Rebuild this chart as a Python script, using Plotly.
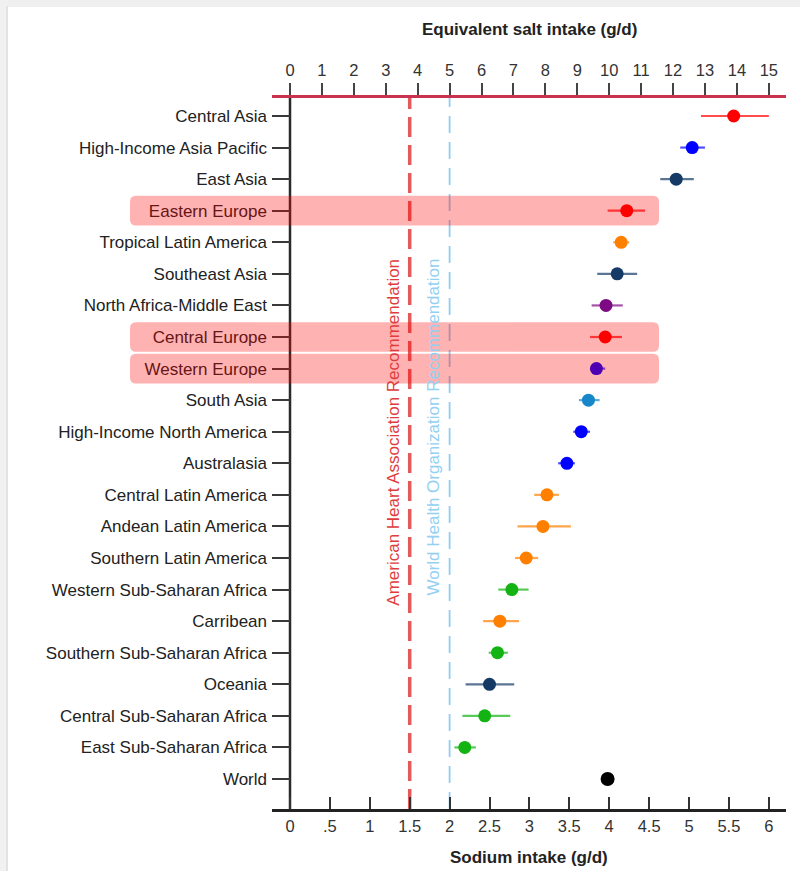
import plotly.graph_objects as go

# ---- data -----------------------------------------------------------------
regions = [
    "Central Asia", "High-Income Asia Pacific", "East Asia", "Eastern Europe",
    "Tropical Latin America", "Southeast Asia", "North Africa-Middle East",
    "Central Europe", "Western Europe", "South Asia", "High-Income North America",
    "Australasia", "Central Latin America", "Andean Latin America",
    "Southern Latin America", "Western Sub-Saharan Africa", "Carribean",
    "Southern Sub-Saharan Africa", "Oceania", "Central Sub-Saharan Africa",
    "East Sub-Saharan Africa", "World",
]
sodium = [5.56, 5.04, 4.84, 4.22, 4.15, 4.10, 3.96, 3.95, 3.84, 3.74, 3.65,
          3.47, 3.22, 3.17, 2.96, 2.78, 2.63, 2.60, 2.50, 2.44, 2.19, 3.98]
ci_low = [5.15, 4.89, 4.64, 3.98, 4.05, 3.85, 3.78, 3.76, 3.76, 3.62, 3.55,
          3.36, 3.06, 2.85, 2.82, 2.61, 2.42, 2.49, 2.20, 2.16, 2.06, 3.98]
ci_high = [6.00, 5.20, 5.06, 4.45, 4.25, 4.35, 4.17, 4.16, 3.95, 3.88, 3.76,
           3.57, 3.37, 3.52, 3.11, 2.99, 2.87, 2.73, 2.81, 2.76, 2.33, 3.98]
super_region = [
    "CEE-CA", "High income", "SE Asia-E Asia-Oceania", "CEE-CA",
    "Latin America-Caribbean", "SE Asia-E Asia-Oceania", "N Africa-Middle East",
    "CEE-CA", "High income", "South Asia", "High income",
    "High income", "Latin America-Caribbean", "Latin America-Caribbean",
    "Latin America-Caribbean", "Sub-Saharan Africa", "Latin America-Caribbean",
    "Sub-Saharan Africa", "SE Asia-E Asia-Oceania", "Sub-Saharan Africa",
    "Sub-Saharan Africa", "World",
]
highlighted = ["Eastern Europe", "Central Europe", "Western Europe"]

sodium_ticks = [0, 0.5, 1, 1.5, 2, 2.5, 3, 3.5, 4, 4.5, 5, 5.5, 6]
sodium_tick_text = ["0", ".5", "1", "1.5", "2", "2.5", "3", "3.5", "4",
                    "4.5", "5", "5.5", "6"]
salt_ticks = list(range(16))
aha_limit = 1.5   # g sodium / day
who_limit = 2.0   # g sodium / day
SALT_PER_SODIUM = 2.5

# ---- styles ---------------------------------------------------------------
region_colors = {
    "CEE-CA": (255, 0, 0),
    "High income": (0, 0, 255),
    "SE Asia-E Asia-Oceania": (22, 58, 102),
    "Latin America-Caribbean": (255, 128, 0),
    "N Africa-Middle East": (125, 10, 130),
    "South Asia": (23, 135, 201),
    "Sub-Saharan Africa": (18, 179, 18),
    "World": (0, 0, 0),
}

def rgba(c, a=1.0):
    return f"rgba({c[0]},{c[1]},{c[2]},{a})"

FONT = "Liberation Sans, Arial, sans-serif"
FS = 17
W, H = 800, 871
L, R, T, B = 272, 786, 98, 809          # plot box in pixels
PX_PER_G = 79.8
x_min = -(290 - L) / PX_PER_G
x_max = x_min + (R - L) / PX_PER_G
y_top = -0.57
y_bottom = len(regions) - 1 + 0.95

def px_x(px):
    return (px - L) / (R - L)

def px_y(py):
    return (B - py) / (B - T)

def cat_y(v):
    return (y_bottom - v) / (y_bottom - y_top)

# ---- figure ---------------------------------------------------------------
fig = go.Figure()

for i, name in enumerate(regions):
    c = region_colors[super_region[i]]
    is_world = name == "World"
    fig.add_trace(go.Scatter(
        x=[sodium[i]], y=[name], mode="markers",
        marker=dict(size=14 if is_world else 13, color=rgba(c)),
        error_x=dict(type="data", symmetric=False,
                     array=[ci_high[i] - sodium[i]],
                     arrayminus=[sodium[i] - ci_low[i]],
                     color=rgba(c, 0.7), thickness=2.2, width=0,
                     visible=not is_world),
        showlegend=False, hoverinfo="skip",
    ))

# same estimates expressed as salt, carried on the top axis (not drawn)
fig.add_trace(go.Scatter(
    x=[s * SALT_PER_SODIUM for s in sodium], y=regions, xaxis="x2",
    mode="markers", marker=dict(size=1, opacity=0),
    showlegend=False, hoverinfo="skip",
))

shapes = []

# light frame strips along the top and left edges
shapes.append(dict(type="rect", xref="paper", yref="paper",
                   x0=px_x(0), x1=px_x(W), y0=px_y(0), y1=px_y(7),
                   fillcolor="#efefef", line=dict(width=0), layer="below"))
shapes.append(dict(type="rect", xref="paper", yref="paper",
                   x0=px_x(0), x1=px_x(8), y0=px_y(0), y1=px_y(H),
                   fillcolor="#f1f1f1", line=dict(width=0), layer="below"))
shapes.append(dict(type="line", xref="paper", yref="paper",
                   x0=px_x(7), x1=px_x(7), y0=px_y(6), y1=px_y(H),
                   line=dict(color="#e3e3e3", width=2), layer="below"))

# recommendation limits
shapes.append(dict(type="line", xref="x", yref="paper", x0=aha_limit, x1=aha_limit,
                   y0=0, y1=1, line=dict(color="#e35a5a", width=3.5, dash="20px,8px"),
                   layer="below"))
shapes.append(dict(type="line", xref="x", yref="paper", x0=who_limit, x1=who_limit,
                   y0=0, y1=1, line=dict(color="#8fcdf2", width=1.8, dash="17px,9px"),
                   layer="below"))

# vertical axis line at zero sodium
shapes.append(dict(type="line", xref="x", yref="paper", x0=0, x1=0, y0=0, y1=1,
                   line=dict(color="#2a2a2a", width=2.5), layer="below"))

# highlighted European regions (rounded translucent bands)
rx = 6 / (R - L)
ry = 6 / (B - T)
xl, xr = px_x(130), px_x(659)
for name in highlighted:
    k = regions.index(name)
    yt, yb = cat_y(k - 0.47), cat_y(k + 0.47)
    path = (f"M {xl + rx},{yt} L {xr - rx},{yt} Q {xr},{yt} {xr},{yt - ry} "
            f"L {xr},{yb + ry} Q {xr},{yb} {xr - rx},{yb} "
            f"L {xl + rx},{yb} Q {xl},{yb} {xl},{yb + ry} "
            f"L {xl},{yt - ry} Q {xl},{yt} {xl + rx},{yt} Z")
    shapes.append(dict(type="path", xref="paper", yref="paper", path=path,
                       fillcolor="rgba(255,0,0,0.3)", line=dict(width=0),
                       layer="above"))

annotations = [
    dict(text="<b>Equivalent salt intake (g/d)</b>", xref="x", yref="paper",
         x=3, y=px_y(30), showarrow=False, xanchor="center", yanchor="middle",
         font=dict(family=FONT, size=FS, color="#222")),
    dict(text="<b>Sodium intake (g/d)</b>", xref="x", yref="paper",
         x=3, y=px_y(857), showarrow=False, xanchor="center", yanchor="middle",
         font=dict(family=FONT, size=FS, color="#222")),
    dict(text="American Heart Association Recommendation", xref="x", yref="paper",
         x=aha_limit, xshift=-5, y=px_y(257), showarrow=False, textangle=-90,
         xanchor="right", yanchor="top",
         font=dict(family=FONT, size=FS, color="#e03c3c")),
    dict(text="World Health Organization Recommendation", xref="x", yref="paper",
         x=who_limit, xshift=-5, y=px_y(257), showarrow=False, textangle=-90,
         xanchor="right", yanchor="top",
         font=dict(family=FONT, size=FS, color="#93d0f2")),
]

fig.update_layout(
    width=W, height=H, autosize=False,
    margin=dict(l=L, r=W - R, t=T, b=H - B, pad=0),
    paper_bgcolor="white", plot_bgcolor="white",
    font=dict(family=FONT, size=FS, color="#222"),
    shapes=shapes, annotations=annotations,
    xaxis=dict(range=[x_min, x_max], tickvals=sodium_ticks, ticktext=sodium_tick_text,
               ticks="inside", ticklen=12, tickwidth=1.6, tickcolor="#333",
               showline=True, linecolor="#222", linewidth=2.5,
               showgrid=False, zeroline=False,
               tickfont=dict(family=FONT, size=16.5, color="#333")),
    xaxis2=dict(overlaying="x", side="top", anchor="y",
                range=[x_min * SALT_PER_SODIUM, x_max * SALT_PER_SODIUM],
                tickvals=salt_ticks, ticks="outside", ticklen=12, tickwidth=1.6,
                tickcolor="#444", showline=True, linecolor="#c8344f", linewidth=3,
                showgrid=False, zeroline=False,
                tickfont=dict(family=FONT, size=16.5, color="#333")),
    yaxis=dict(type="category", categoryorder="array", categoryarray=regions,
               range=[y_bottom, y_top], ticks="inside", ticklen=18, tickwidth=2,
               tickcolor="#3a3a3a", showline=False, showgrid=False, zeroline=False,
               ticklabelstandoff=4,
               tickfont=dict(family=FONT, size=FS, color="#222")),
)

fig.write_html("out.html")
